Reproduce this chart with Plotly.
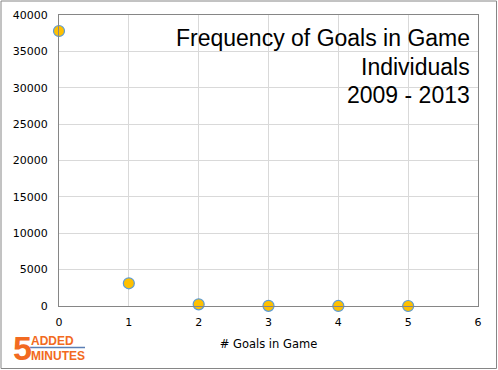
import plotly.graph_objects as go

goals = [0, 1, 2, 3, 4, 5]
frequency = [37800, 3120, 230, 25, 4, 1]
title_lines = ["Frequency of Goals in Game", "Individuals", "2009 - 2013"]
x_title = "# Goals in Game"

W, H = 498, 370
L, R, T, B = 59, 20, 15, 64
pw, ph = W - L - R, H - T - B

def px_x(p):
    return (p - L) / pw

def px_y(p):
    return (H - B - p) / ph

fig = go.Figure()
fig.add_trace(go.Scatter(
    x=goals, y=frequency, mode="markers",
    marker=dict(size=11, color="#FFC000", line=dict(color="#5B9BD5", width=1.2)),
    cliponaxis=False, showlegend=False, hoverinfo="skip",
))

font_fam = "DejaVu Sans"
fig.update_layout(
    width=W, height=H,
    margin=dict(l=L, r=R, t=T, b=B, autoexpand=False),
    paper_bgcolor="white", plot_bgcolor="white",
    font=dict(family=font_fam, size=11, color="black"),
    xaxis=dict(range=[0, 6], dtick=1, tick0=0, showgrid=True, gridcolor="#D9D9D9",
               showline=True, linecolor="#868686", linewidth=1, mirror=True,
               zeroline=False, ticks="", ticklen=0, tickfont=dict(size=11),
               ticklabelstandoff=6, automargin=False,
               title=dict(text=x_title, font=dict(size=11.5), standoff=11)),
    yaxis=dict(range=[0, 40000], dtick=5000, tick0=0, showgrid=True, gridcolor="#D9D9D9",
               showline=True, linecolor="#868686", linewidth=1, mirror=True,
               zeroline=False, ticks="", tickfont=dict(size=11), tickformat="d",
               ticklabelstandoff=8, automargin=False),
)

title_font = "Liberation Sans"
for line, mid in zip(title_lines, [38, 66.5, 95]):
    fig.add_annotation(
        text=line, xref="paper", yref="paper",
        x=px_x(471), y=px_y(mid), xanchor="right", yanchor="middle", align="right",
        showarrow=False, borderpad=0,
        font=dict(family=title_font, size=23, color="black"),
    )

# outer chart border
fig.add_shape(type="rect", xref="paper", yref="paper",
              x0=px_x(1), x1=px_x(496.5), y0=px_y(368.5), y1=px_y(1),
              line=dict(color="#868686", width=1), fillcolor="rgba(0,0,0,0)", layer="below")

# logo
orange = "#F26A21"
fig.add_annotation(text="<b>5</b>", xref="paper", yref="paper", x=px_x(12), y=px_y(347.5),
                   xanchor="left", yanchor="middle", showarrow=False, borderpad=0,
                   font=dict(family="Liberation Sans", size=34, color=orange))
fig.add_annotation(text="<b>ADDED</b>", xref="paper", yref="paper", x=px_x(30), y=px_y(340.5),
                   xanchor="left", yanchor="middle", showarrow=False, borderpad=0,
                   font=dict(family="Liberation Sans Narrow, Liberation Sans", size=12, color=orange))
fig.add_annotation(text="<b>MINUTES</b>", xref="paper", yref="paper", x=px_x(30), y=px_y(355.5),
                   xanchor="left", yanchor="middle", showarrow=False, borderpad=0,
                   font=dict(family="Liberation Sans Narrow, Liberation Sans", size=12, color=orange))
fig.add_shape(type="line", xref="paper", yref="paper", x0=px_x(30), x1=px_x(85),
              y0=px_y(347.5), y1=px_y(347.5), line=dict(color="#5B7FB5", width=1.5))

fig.write_html("out.html", config={"displayModeBar": False},
               post_script="document.body.style.margin='0';document.body.style.padding='0';")
